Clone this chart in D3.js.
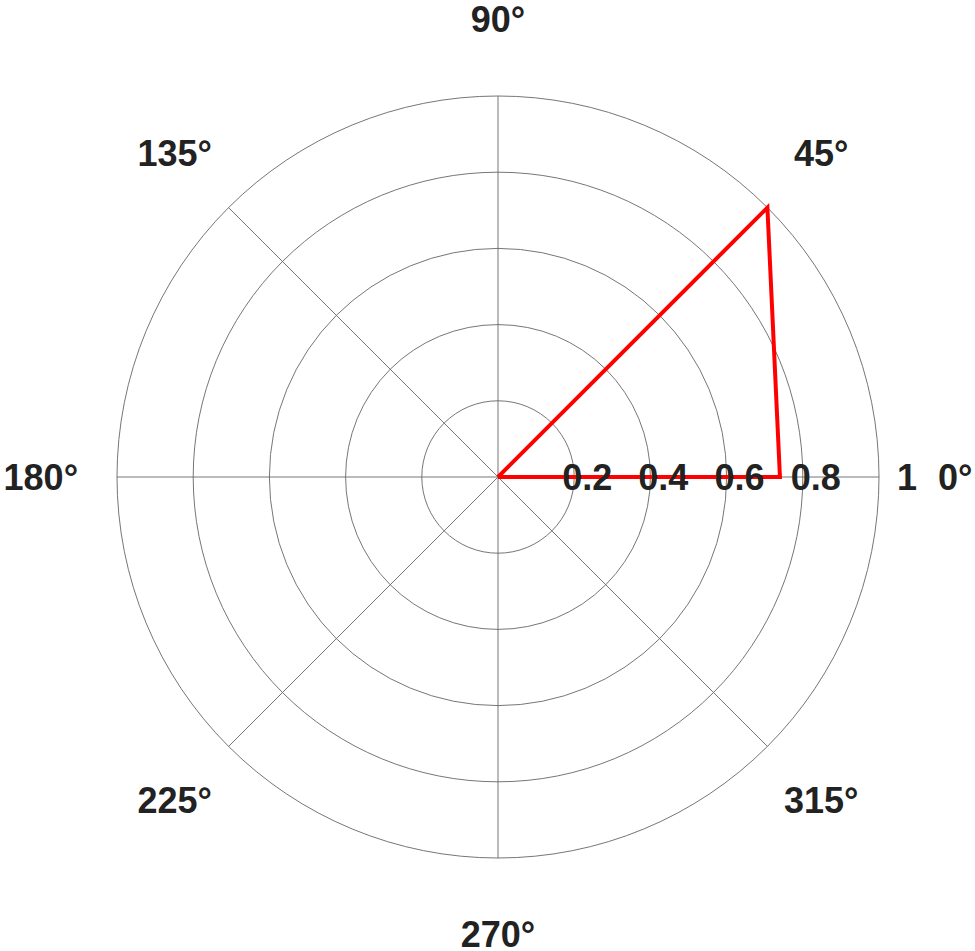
<!DOCTYPE html>
<html lang="en">
<head>
    <meta charset="utf-8">
    <title>polar plot</title>
    <script src="https://cdn.jsdelivr.net/npm/d3@7"></script>
    <style>
        body { margin: 0; background: #fff; }
        text { font-family: "Liberation Sans", Arial, sans-serif; font-weight: bold; fill: #222; }
    </style>
</head>
<body>
    <svg id="canvas" width="975" height="951"></svg>
    <script>
        // data
        const thetaDeg = [0, 45, 0, 0]
        const rho = [0, 1.0, 0.74, 0]
        const ringTicks = [0.2, 0.4, 0.6, 0.8, 1]
        const spokeAngles = [0, 45, 90, 135, 180, 225, 270, 315]

        const svg = d3.select('#canvas')
        const cx = 498, cy = 477, R = 381

        const r = d3.scaleLinear().domain([0, 1]).range([0, R])
        const rad = d => d * Math.PI / 180

        const g = svg.append('g').attr('transform', `translate(${cx},${cy})`)

        // rings
        g.selectAll('circle.ring')
            .data(ringTicks)
            .join('circle')
            .attr('class', 'ring')
            .attr('r', d => r(d))
            .attr('fill', 'none')
            .attr('stroke', '#666')
            .attr('stroke-width', 0.9)

        // spokes
        g.selectAll('line.spoke')
            .data(spokeAngles)
            .join('line')
            .attr('x1', 0).attr('y1', 0)
            .attr('x2', d => r(1) * Math.cos(rad(d)))
            .attr('y2', d => -r(1) * Math.sin(rad(d)))
            .attr('stroke', '#666')
            .attr('stroke-width', 0.9)

        // angle labels
        g.selectAll('text.ang')
            .data(spokeAngles)
            .join('text')
            .attr('x', d => r(1.2) * Math.cos(rad(d)))
            .attr('y', d => -r(1.2) * Math.sin(rad(d)))
            .attr('dy', '0.35em')
            .attr('text-anchor', 'middle')
            .attr('font-size', 36)
            .text(d => d + '°')

        // data line
        const pts = thetaDeg.map((t, i) => [r(rho[i]) * Math.cos(rad(t)), -r(rho[i]) * Math.sin(rad(t))])
        g.append('path')
            .attr('d', d3.line()(pts))
            .attr('fill', 'none')
            .attr('stroke', '#ff0000')
            .attr('stroke-width', 4)
            .attr('stroke-linejoin', 'miter')

        // radial tick labels, drawn on top
        g.selectAll('text.rt')
            .data(ringTicks)
            .join('text')
            .attr('x', d => r(d) + 38)
            .attr('y', 0)
            .attr('dy', '0.35em')
            .attr('text-anchor', 'end')
            .attr('font-size', 36)
            .text(d => d)
    </script>
</body>
</html>
